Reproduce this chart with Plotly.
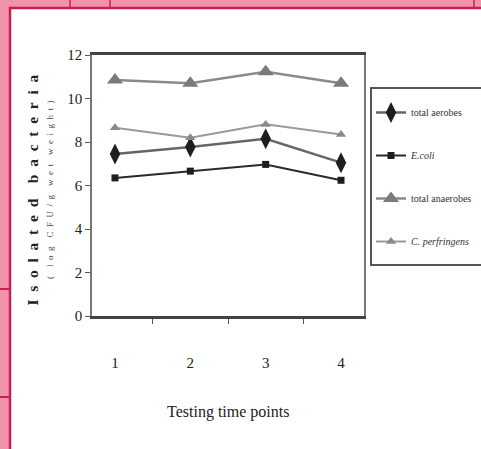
import plotly.graph_objects as go

# Sampling points and measured counts (log CFU/g wet weight)
time_points = ["1", "2", "3", "4"]
total_aerobes = [7.45, 7.77, 8.15, 7.05]
e_coli = [6.35, 6.66, 6.97, 6.24]
total_anaerobes = [10.85, 10.7, 11.23, 10.7]
c_perfringens = [8.66, 8.2, 8.81, 8.35]
y_ticks = [0, 2, 4, 6, 8, 10, 12]

W, H = 481, 449
L, R, T, B = 92, 364, 55, 316  # plot area in pixels


def px(x):
    return (x - L) / (R - L)


def py(y):
    return (B - y) / (B - T)


def spaced(text, gap, word_gap):
    # widen letter spacing by inserting fixed-width spaces
    words = text.split(" ")
    return word_gap.join(gap.join(w) for w in words)


serif = "Liberation Serif, Times New Roman, serif"

fig = go.Figure()

series = [
    ("total aerobes", total_aerobes, "#666666", 2.5, "diamond-tall", 15, "#1e1e1e"),
    ("<i>E.coli</i>", e_coli, "#2a2a2a", 2, "square", 7, "#1e1e1e"),
    ("total anaerobes", total_anaerobes, "#8a8a8a", 2.5, "triangle-up", 14, "#7a7a7a"),
    ("<i>C. perfringens</i>", c_perfringens, "#9a9a9a", 2, "triangle-up", 9, "#8a8a8a"),
]
for i, (name, vals, lc, lw, sym, ms, mc) in enumerate(series):
    fig.add_trace(go.Scatter(
        x=time_points, y=vals, name=name, mode="lines+markers",
        line=dict(color=lc, width=lw),
        marker=dict(symbol=sym, size=ms, color=mc),
        legendgroup=f"g{i}",
    ))

shapes = []
pink, red = "#f093ab", "#c8204a"
# page border strips
shapes.append(dict(type="rect", xref="paper", yref="paper", x0=px(0), x1=px(9),
                   y0=py(H), y1=py(0), fillcolor=pink, line=dict(width=0), layer="below"))
shapes.append(dict(type="rect", xref="paper", yref="paper", x0=px(0), x1=px(W),
                   y0=py(7), y1=py(0), fillcolor=pink, line=dict(width=0), layer="below"))
shapes.append(dict(type="line", xref="paper", yref="paper", x0=px(10), x1=px(10),
                   y0=py(H), y1=py(7), line=dict(color=red, width=2.5)))
shapes.append(dict(type="line", xref="paper", yref="paper", x0=px(9), x1=px(W),
                   y0=py(8), y1=py(8), line=dict(color=red, width=2.5)))
for xv in (70, 110, 474):
    shapes.append(dict(type="line", xref="paper", yref="paper", x0=px(xv), x1=px(xv),
                       y0=py(8), y1=py(0), line=dict(color=red, width=1.5)))
for yv in (289, 397):
    shapes.append(dict(type="line", xref="paper", yref="paper", x0=px(0), x1=px(9),
                       y0=py(yv), y1=py(yv), line=dict(color=red, width=2)))
# legend frame
shapes.append(dict(type="rect", xref="paper", yref="paper", x0=px(371), x1=px(490),
                   y0=py(265), y1=py(88), line=dict(color="#555555", width=2),
                   fillcolor="rgba(0,0,0,0)"))

annotations = [
    dict(text="<b>" + spaced("Isolated bacteria", "\u2002", "\u2002\u2002") + "</b>",
         xref="paper", yref="paper", x=px(32.5), y=py(190), xanchor="center", yanchor="middle",
         textangle=-90, showarrow=False,
         font=dict(family=serif, size=15.5, color="#222222")),
    dict(text=spaced("( log CFU/g wet weight)", "\u2002", "\u2002\u2002"),
         xref="paper", yref="paper", x=px(50), y=py(190), xanchor="center", yanchor="middle",
         textangle=-90, showarrow=False,
         font=dict(family=serif, size=9, color="#444444")),
    dict(text="Testing time points", xref="paper", yref="paper",
         x=0.5, y=py(412), xanchor="center", yanchor="middle", showarrow=False,
         font=dict(family=serif, size=16, color="#222222")),
]

fig.update_layout(
    width=W, height=H,
    margin=dict(l=L, r=W - R, t=T, b=H - B, autoexpand=False),
    paper_bgcolor="white", plot_bgcolor="white",
    showlegend=True,
    legend=dict(
        x=px(371), y=py(98), xanchor="left", yanchor="top",
        borderwidth=0, bgcolor="rgba(0,0,0,0)",
        font=dict(family=serif, size=10, color="#333333"),
        tracegroupgap=24, itemwidth=30,
    ),
    shapes=shapes,
    annotations=annotations,
    xaxis=dict(
        type="category", categoryorder="array", categoryarray=time_points,
        tickson="boundaries", ticks="outside", ticklen=5, tickcolor="#555555",
        showline=True, linecolor="#444444", linewidth=2.5, mirror=True,
        showgrid=False, zeroline=False, ticklabelstandoff=31,
        tickfont=dict(family=serif, size=15, color="#222222"),
    ),
    yaxis=dict(
        range=[0, 12], tickvals=y_ticks, ticks="outside", ticklen=5, tickcolor="#555555",
        showline=True, linecolor="#777777", linewidth=1.5, mirror=True,
        showgrid=False, zeroline=False,
        tickfont=dict(family=serif, size=15, color="#222222"),
    ),
)

fig.write_html("out.html")
